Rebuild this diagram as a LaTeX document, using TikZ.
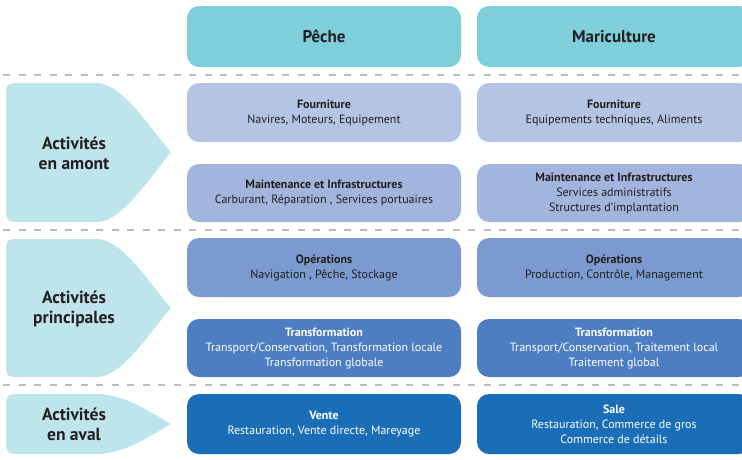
\documentclass[tikz,border=0pt]{standalone}
\usepackage{fontspec}
\setmainfont{PT Sans}
\definecolor{hdr}{HTML}{7ECFDB}
\definecolor{side}{HTML}{BEE5EB}
\definecolor{rowA}{HTML}{B4C4E4}
\definecolor{rowB}{HTML}{A2B5DC}
\definecolor{rowC}{HTML}{7B9ACF}
\definecolor{rowD}{HTML}{4E7EC2}
\definecolor{rowE}{HTML}{1A6DB7}
\definecolor{ink}{HTML}{231F20}
\definecolor{dashc}{HTML}{BDBDBD}
\begin{document}
\begin{tikzpicture}[x=1pt,y=-1pt,
  box/.style={rounded corners=12pt, minimum width=274pt, align=center,
    font=\fontsize{12}{15}\selectfont, text=ink, inner sep=0pt},
  hbox/.style={box, fill=hdr, font=\fontsize{17}{20}\selectfont\bfseries, minimum height=61pt},
  sidetext/.style={align=center, text=ink, font=\fontsize{17.5}{20}\selectfont\bfseries, inner sep=0pt},
  sep/.style={draw=dashc, line width=1.5pt, dash pattern=on 7pt off 8.5pt}]
\useasboundingbox (0,0) rectangle (742,459);
\clip (0,0) rectangle (742,459);

% dashed separators
\coordinate (d1a) at (3,75);  \coordinate (d1b) at (742,75);
\coordinate (d2a) at (3,230); \coordinate (d2b) at (742,230);
\coordinate (d3a) at (3,385); \coordinate (d3b) at (742,385);
\draw[sep] (d1a) -- (d1b);
\draw[sep] (d2a) -- (d2b);
\draw[sep] (d3a) -- (d3b);

% headers
\node[hbox] (hp) at (324,36.5) {Pêche};
\node[hbox] (hm) at (614,36.5) {Mariculture};

% left arrow-shaped labels
\fill[side] (97,83) .. controls (122,83) and (150,128) .. (171,152.5)
  .. controls (150,177) and (122,222) .. (97,222) -- (22,222)
  .. controls (6,222) .. (6,206) -- (6,99) .. controls (6,83) .. (22,83) -- cycle;
\fill[side] (97,239) .. controls (122,239) and (150,284) .. (171,308)
  .. controls (150,332) and (122,377) .. (97,377) -- (22,377)
  .. controls (6,377) .. (6,361) -- (6,255) .. controls (6,239) .. (22,239) -- cycle;
\fill[side] (97,394) .. controls (125,394) and (152,413) .. (171,424)
  .. controls (152,435) and (125,454) .. (97,454) -- (22,454)
  .. controls (6,454) .. (6,438) -- (6,410) .. controls (6,394) .. (22,394) -- cycle;
\node[sidetext] (s1) at (74,153) {Activités\\en amont};
\node[sidetext] (s2) at (74,309) {Activités\\principales};
\node[sidetext] (s3) at (74,424) {Activités\\en aval};

% Pêche column
\node[box, fill=rowA, minimum height=59pt] (p1) at (324,112.5)
  {{\bfseries Fourniture}\\Navires, Moteurs, Equipement};
\node[box, fill=rowB, minimum height=58pt] (p2) at (324,193)
  {{\bfseries Maintenance et Infrastructures}\\Carburant, Réparation , Services portuaires};
\node[box, fill=rowC, minimum height=59pt] (p3) at (324,267.5)
  {{\bfseries Opérations}\\Navigation , Pêche, Stockage};
\node[box, fill=rowD, text=white, minimum height=58pt] (p4) at (324,348)
  {{\bfseries Transformation}\\Transport/Conservation, Transformation locale\\Transformation globale};
\node[box, fill=rowE, text=white, minimum height=60pt] (p5) at (324,424)
  {{\bfseries Vente}\\Restauration, Vente directe, Mareyage};

% Mariculture column
\node[box, fill=rowA, minimum height=59pt] (m1) at (614,112.5)
  {{\bfseries Fourniture}\\Equipements techniques, Aliments};
\node[box, fill=rowB, minimum height=58pt] (m2) at (614,193)
  {{\bfseries Maintenance et Infrastructures}\\Services administratifs\\Structures d’implantation};
\node[box, fill=rowC, minimum height=59pt] (m3) at (614,267.5)
  {{\bfseries Opérations}\\Production, Contrôle, Management};
\node[box, fill=rowD, text=white, minimum height=58pt] (m4) at (614,348)
  {{\bfseries Transformation}\\Transport/Conservation, Traitement local\\Traitement global};
\node[box, fill=rowE, text=white, minimum height=60pt] (m5) at (614,424)
  {{\bfseries Sale}\\Restauration, Commerce de gros\\Commerce de détails};
\end{tikzpicture}
\end{document}
